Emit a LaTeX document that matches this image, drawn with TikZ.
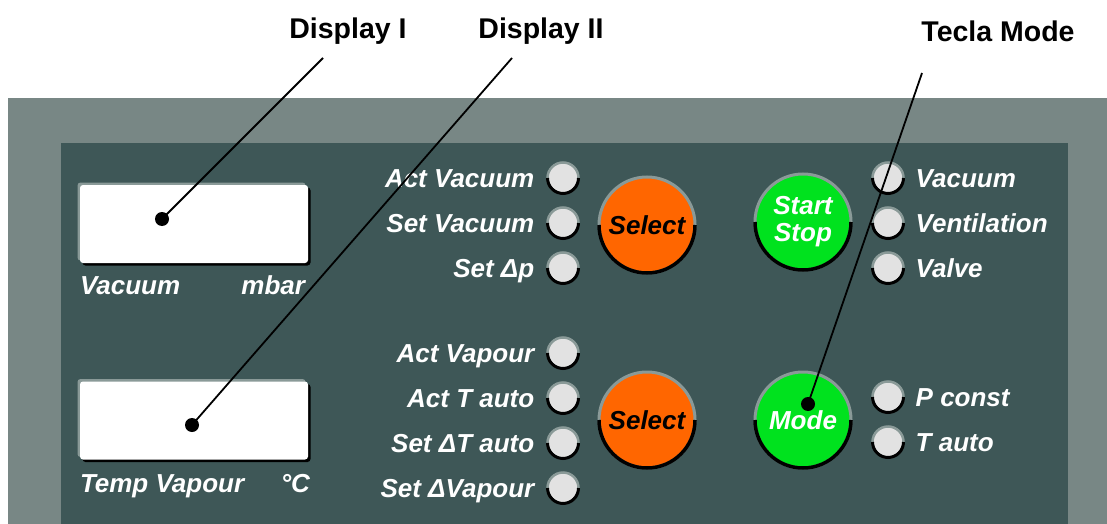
\documentclass[tikz,border=0pt]{standalone}
\usepackage{fontspec}
\setmainfont{Liberation Sans}
\usetikzlibrary{positioning}

\definecolor{frame}{HTML}{788785}
\definecolor{panel}{HTML}{3E5757}
\definecolor{rim}{HTML}{8A9A98}
\definecolor{lamp}{HTML}{E2E2E2}
\definecolor{selorange}{HTML}{FF6600}
\definecolor{btngreen}{HTML}{00E21E}

\tikzset{
  led/.style={circle,fill=lamp,draw=rim,line width=2.5pt,minimum size=31pt,inner sep=0pt,outer sep=0pt},
  ledtxt/.style={text=white,inner sep=0pt,text height=18.6pt,text depth=0pt,font=\fontsize{26}{28}\selectfont\bfseries\itshape},
  knob/.style={circle,draw=rim,line width=3pt,minimum size=96pt,inner sep=0pt,outer sep=0pt,align=center,font=\fontsize{26}{27}\selectfont\bfseries\itshape},
  lcd/.style={rectangle,fill=white,rounded corners=3pt,minimum width=228pt,minimum height=78pt,inner sep=0pt,
    preaction={fill=rim,transform canvas={shift={(-2.5pt,2.5pt)}}},
    preaction={fill=black,transform canvas={shift={(2.5pt,-2.5pt)}}}},
  tag/.style={inner sep=0pt,text height=20.4pt,text depth=0pt,font=\fontsize{28.5}{30}\selectfont\bfseries},
  pin/.style={line width=1.8pt},
  dot/.style={circle,fill=black,inner sep=0pt,minimum size=14pt}
}

\begin{document}
\begin{tikzpicture}[x=1pt,y=1pt]
  \useasboundingbox (0,0) rectangle (1107,-524);
  \fill[frame] (8,-98) rectangle (1107,-524);
  \fill[panel] (61,-143) rectangle (1068,-524);

  % displays
  \node[lcd] (disp1) at (194,-224) {};
  \node[lcd] (disp2) at (194,-420.5) {};
  \node[ledtxt,anchor=north west] (vaclbl) at ([yshift=-12pt]disp1.south west) {Vacuum};
  \node[ledtxt,anchor=north east] (mbarlbl) at ([xshift=-3pt,yshift=-12pt]disp1.south east) {mbar};
  \node[ledtxt,anchor=north west] (templbl) at ([yshift=-14pt]disp2.south west) {Temp Vapour};
  \node[ledtxt,anchor=north east] (degclbl) at ([xshift=2pt,yshift=-14pt]disp2.south east) {°C};

  % left lamp column
  \node[led] (av) at (563,-178) {};
  \node[led,below=14pt of av] (sv) {};
  \node[led,below=14pt of sv] (sp) {};
  \node[led] (ap) at (563,-353) {};
  \node[led,below=14pt of ap] (at) {};
  \node[led,below=14pt of at] (st) {};
  \node[led,below=14pt of st] (sa) {};
  \node[ledtxt,left=13pt of av] {Act Vacuum};
  \node[ledtxt,left=13pt of sv] {Set Vacuum};
  \node[ledtxt,left=13pt of sp] {Set Δp};
  \node[ledtxt,left=13pt of ap] {Act Vapour};
  \node[ledtxt,left=13pt of at] {Act T auto};
  \node[ledtxt,left=13pt of st] {Set ΔT auto};
  \node[ledtxt,left=13pt of sa] {Set ΔVapour};

  % right lamp column
  \node[led] (rv) at (888,-178) {};
  \node[led,below=14pt of rv] (rn) {};
  \node[led,below=14pt of rn] (rl) {};
  \node[led] (pc) at (888,-397) {};
  \node[led,below=14pt of pc] (ta) {};
  \node[ledtxt,right=12pt of rv] {Vacuum};
  \node[ledtxt,right=12pt of rn] {Ventilation};
  \node[ledtxt,right=12pt of rl] {Valve};
  \node[ledtxt,right=12pt of pc] {P const};
  \node[ledtxt,right=12pt of ta] {T auto};

  \foreach \l in {av,sv,sp,ap,at,st,sa,rv,rn,rl,pc,ta}
    \draw[line width=3pt] (\l.west) arc[start angle=180,end angle=360,radius=15.5pt];

  % buttons
  \node[knob,fill=selorange] (sel1) at (647,-225) {Select};
  \node[knob,fill=selorange] (sel2) at (647,-420) {Select};
  \node[knob,fill=btngreen,text=white] (start) at (803,-222) {Start\\Stop};
  \node[knob,fill=btngreen,text=white] (mode) at (803,-420) {Mode};
  \foreach \k in {sel1,sel2,start,mode}
    \draw[line width=3.5pt] (\k.west) arc[start angle=180,end angle=360,radius=48pt];

  % callouts
  \node[tag] (t1) at (348,-28) {Display I};
  \node[tag] (t2) at (541,-28) {Display II};
  \node[tag] (t3) at (998,-31) {Tecla Mode};
  \coordinate (c1) at (323,-58);
  \coordinate (c2) at (512,-58);
  \coordinate (c3) at (922,-73);
  \node[dot] (p1) at (162,-219) {};
  \node[dot] (p2) at (192,-425) {};
  \node[dot] (p3) at (808,-404) {};
  \draw[pin] (c1) -- (p1.center);
  \draw[pin] (c2) -- (p2.center);
  \draw[pin] (c3) -- (p3.center);
\end{tikzpicture}
\end{document}
